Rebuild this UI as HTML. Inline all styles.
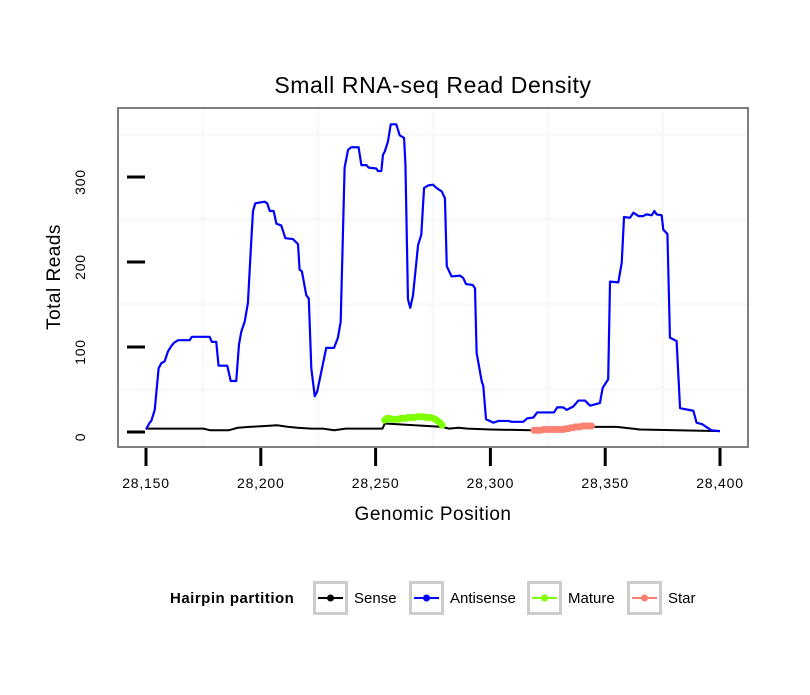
<!DOCTYPE html>
<html><head><meta charset="utf-8"><style>
body{margin:0;background:#fff;font-family:"Liberation Sans",sans-serif}
</style></head><body>
<svg id="chart" width="810" height="690" xmlns="http://www.w3.org/2000/svg" font-family="Liberation Sans, sans-serif">
<rect x="0" y="0" width="810" height="690" fill="#fff"/>
<text x="433" y="93" text-anchor="middle" font-size="23" letter-spacing="0.6">Small RNA-seq Read Density</text>
<g id="grid"></g>
<g id="series"></g>
<rect x="118" y="108" width="630" height="339" fill="none" stroke="#7f7f7f" stroke-width="2"/>
<g id="axes"></g>
<text x="433" y="520" text-anchor="middle" font-size="19" letter-spacing="0.5">Genomic Position</text>
<text transform="translate(60,277) rotate(-90)" text-anchor="middle" font-size="19" letter-spacing="0.5">Total Reads</text>
<g>
<text x="170" y="603" font-size="15" font-weight="bold" letter-spacing="0.5">Hairpin partition</text>
<g id="legend"></g>
</g>
</svg>
<script>
const xTicks=[28150,28200,28250,28300,28350,28400];
const xTickLabels=["28,150","28,200","28,250","28,300","28,350","28,400"];
const yTicks=[0,100,200,300];
const antisensePos=[28150,28151.6,28152.3,28153.8,28155.5,28156.7,28158.1,28159.6,28161,28162.2,28164,28169,28170,28177.7,28178.7,28180.6,28181.6,28185.4,28186.9,28189.3,28190.5,28191.5,28193,28194.4,28195.6,28196.6,28197.6,28201.6,28202.8,28203.9,28205.6,28206.8,28208.9,28210.7,28214,28216.2,28216.9,28217.9,28219.8,28220.9,28222,28223.5,28224.6,28228.5,28231.9,28233.6,28234.8,28236.5,28238,28239.4,28242.6,28243.8,28246,28247,28250.3,28251,28252.5,28253.2,28254,28255.4,28256.6,28259,28260.5,28262.4,28263,28264.1,28265.1,28266.3,28268.5,28269.9,28271.1,28272.8,28275,28276.6,28278.8,28280.2,28281,28283.1,28286.8,28288.2,28289.4,28292.3,28293.3,28294,28296.2,28296.9,28298.1,28301.3,28303.5,28307.8,28309.3,28314.3,28316,28318.7,28320.4,28327.7,28329.1,28331.7,28333.2,28336.1,28338.3,28341.2,28343.4,28347.7,28348.9,28351.3,28352.1,28355.7,28357.2,28358.2,28360.8,28362.3,28364.5,28366.6,28367.8,28370.3,28371.4,28372.4,28374.6,28375.3,28377.1,28378.2,28381.1,28382.6,28388.4,28389.8,28392.4,28393.4,28396.3,28400];
const antisenseVal=[3,11,13,26,75,81,83,95,101,105,108,108,112,112,106,106,78,78,60,60,103,118,130,152,213,260,269,271,269,260,260,245,243,228,227,221,191,189,161,157,75,42,48,99,99,111,130,311,332,335,335,314,314,311,310,307,307,326,330,342,362,362,349,346,314,156,146,161,220,232,287,290,291,287,283,275,195,183,184,181,174,173,169,93,60,54,15,11,13,13,12,12,16,17,23,23,29,29,26,30,37,37,31,34,52,62,177,176,199,253,252,258,254,254,256,255,260,256,255,238,233,111,107,28,25,11,9,7,2,1];
const sensePos=[28150,28175,28178,28186,28190,28195,28202,28207,28212,28216,28222,28227,28232,28237,28253,28254,28279,28282,28286,28290,28300,28318,28345,28355,28365,28400];
const senseVal=[4,4,2,2,5,6,7,8,6,5,4,4,2,4,4,10,6,4,5,4,3,2,6,6,3,1];
const matureVal=[14,16,16,15,15,15,15,16,16,16,17,17,17,17,18,18,18,18,17,17,17,16,15,13,11,8];
const matureStart=28254;
const starVal=[2,2,2,2,3,3,3,3,3,3,3,3,3,3,4,4,5,5,6,6,6,7,7,7,7,7];
const starStart=28319;
const legendLabels=["Sense","Antisense","Mature","Star"];
const legendColors=["#000000","#0000ff","#7fff00","#fa8072"];

const NS="http://www.w3.org/2000/svg";
const X=p=>146+(p-28150)*574/250;
const Y=v=>432-v*0.85;
function mk(tag,attrs,parent){const e=document.createElementNS(NS,tag);for(const k in attrs)e.setAttribute(k,attrs[k]);parent.appendChild(e);return e;}
const grid=document.getElementById('grid'),series=document.getElementById('series'),axes=document.getElementById('axes'),legend=document.getElementById('legend');
for(let i=0;i<xTicks.length-1;i++){const l=mk('line',{x1:X(xTicks[i]+25),x2:X(xTicks[i]+25),y1:109,y2:446,stroke:'#f9f9f9','stroke-width':3},grid);

}
for(let i=0;i<yTicks.length;i++){const l=mk('line',{x1:119,x2:747,y1:Y(yTicks[i]+50),y2:Y(yTicks[i]+50),stroke:'#f9f9f9','stroke-width':3},grid);

}
xTicks.forEach((t,i)=>{const l=mk('line',{x1:X(t),x2:X(t),y1:448,y2:466,stroke:'#000','stroke-width':3},axes);


const tx=mk('text',{x:X(t),y:488,'text-anchor':'middle','font-size':14,'letter-spacing':0.8},axes);tx.textContent=xTickLabels[i];

});
yTicks.forEach(t=>{const l=mk('line',{x1:127,x2:145,y1:Y(t),y2:Y(t),stroke:'#000','stroke-width':3},axes);


const tx=mk('text',{transform:`translate(85,${Y(t)+5}) rotate(-90)`,'text-anchor':'middle','font-size':14,'letter-spacing':0.8},axes);tx.textContent=String(t);

});
function poly(xs,ys,color,w,name){const p=mk('polyline',{points:xs.map((x,i)=>X(x)+','+Y(ys[i])).join(' '),fill:'none',stroke:color,'stroke-width':w,'stroke-linejoin':'round'},series);

}
poly(sensePos,senseVal,'#000',2,'sense-line');
poly(antisensePos,antisenseVal,'#0000ff',2.2,'antisense-line');
function pts(start,vals,color,name){const xs=vals.map((v,i)=>start+i);poly(xs,vals,color,3,name+'-line');
vals.forEach((v,i)=>{const c=mk('circle',{cx:X(start+i),cy:Y(v),r:3.5,fill:color},series);

});}
pts(matureStart,matureVal,'#7fff00','mature');
pts(starStart,starVal,'#fa8072','star');
const lx=[313,409,527,627];
legendLabels.forEach((lab,i)=>{const g=mk('g',{},legend);


mk('rect',{x:lx[i]+1.5,y:582.5,width:32,height:31,fill:'#fff',stroke:'#cccccc','stroke-width':3},g);
mk('line',{x1:lx[i]+5,x2:lx[i]+30,y1:598,y2:598,stroke:legendColors[i],'stroke-width':2},g);
mk('circle',{cx:lx[i]+17.5,cy:598,r:3.5,fill:legendColors[i]},g);
const t=mk('text',{x:lx[i]+41,y:603,'font-size':15},g);t.textContent=lab;});
</script>
</body></html>
